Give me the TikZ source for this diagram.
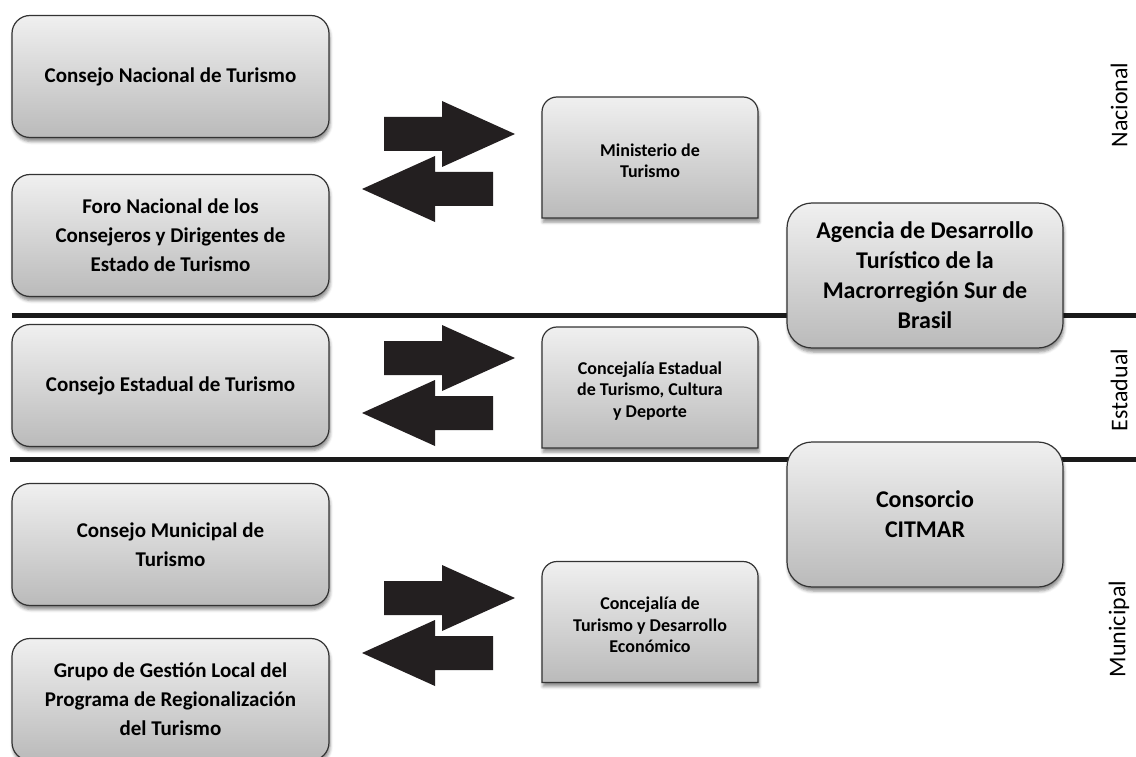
\documentclass[tikz,border=0pt]{standalone}
\usepackage{fontspec}
\setmainfont{Carlito}
\usetikzlibrary{shadows.blur}
\definecolor{arrowgray}{HTML}{231F20}
\definecolor{bandgray}{HTML}{1A1A1A}

\tikzset{
  box/.style={draw=black!80, line width=1.2pt, top color=black!6, bottom color=black!27,
    blur shadow={shadow xshift=1pt, shadow yshift=-4pt, shadow blur radius=3pt, shadow opacity=45}},
  sidebox/.style={box, rounded corners=18pt, minimum width=317pt, minimum height=122pt,
    align=center, font=\fontsize{21}{29}\selectfont\bfseries},
  midbox/.style={minimum width=216pt, minimum height=121pt, align=center,
    font=\fontsize{18}{21.5}\selectfont\bfseries},
  agbox/.style={box, rounded corners=25pt, minimum width=276pt, minimum height=145pt,
    align=center, font=\fontsize{24}{30}\selectfont\bfseries},
  level/.style={rotate=90, font=\fontsize{24}{28}\selectfont},
  band/.style={draw=bandgray, line width=5pt}
}

\begin{document}
\begin{tikzpicture}[x=1pt, y=-1pt]
  \useasboundingbox (0,0) rectangle (1136,757);

  % separators between levels
  \coordinate (sepA) at (12,315);  \coordinate (sepA') at (1136,315);
  \coordinate (sepB) at (10,459);  \coordinate (sepB') at (1136,459);
  \draw[band] (sepA) -- (sepA');
  \draw[band] (sepB) -- (sepB');

  % councils
  \node[sidebox] (cnt) at (170.5,76.5) {Consejo Nacional de Turismo};
  \node[sidebox] (foro) at (170.5,235.5) {Foro Nacional de los\\Consejeros y Dirigentes de\\Estado de Turismo};
  \node[sidebox] (cet) at (170.5,385.5) {Consejo Estadual de Turismo};
  \node[sidebox] (cmt) at (170.5,544.5) {Consejo Municipal de\\Turismo};
  \node[sidebox] (ggl) at (170.5,699.5) {Grupo de Gestión Local del\\Programa de Regionalización\\del Turismo};

  % public bodies (top corners rounded only)
  \foreach \cy in {157.5,387.5,622}
    \path[box] (542,\cy+60.5) -- (542,\cy-45.5)
      arc[start angle=180, end angle=90, radius=15pt] -- (743,\cy-60.5)
      arc[start angle=90, end angle=0, radius=15pt] -- (758,\cy+60.5) -- cycle;
  \node[midbox] (mint) at (650,161) {Ministerio de\\Turismo};
  \node[midbox] (cest) at (650,391) {Concejalía Estadual\\de Turismo, Cultura\\y Deporte};
  \node[midbox] (cmun) at (650,625) {Concejalía de\\Turismo y Desarrollo\\Económico};

  % agencies
  \node[agbox] (adt) at (925,275.5) {Agencia de Desarrollo\\Turístico de la\\Macrorregión Sur de\\Brasil};
  \node[agbox] (citmar) at (925,514.5) {Consorcio\\CITMAR};

  % exchange arrows
  \foreach \y in {134,358,598} {
    \fill[arrowgray] (384,\y-17) -- (442,\y-17) -- (442,\y-33) -- (515,\y)
      -- (442,\y+33) -- (442,\y+17) -- (384,\y+17) -- cycle;
    \fill[arrowgray] (493,\y+38) -- (435,\y+38) -- (435,\y+22) -- (362,\y+55)
      -- (435,\y+88) -- (435,\y+72) -- (493,\y+72) -- cycle;
  }

  % levels
  \node[level] (nac) at (1119,105) {Nacional};
  \node[level] (est) at (1119,390) {Estadual};
  \node[level] (mun) at (1119,629) {Municipal};
\end{tikzpicture}
\end{document}
